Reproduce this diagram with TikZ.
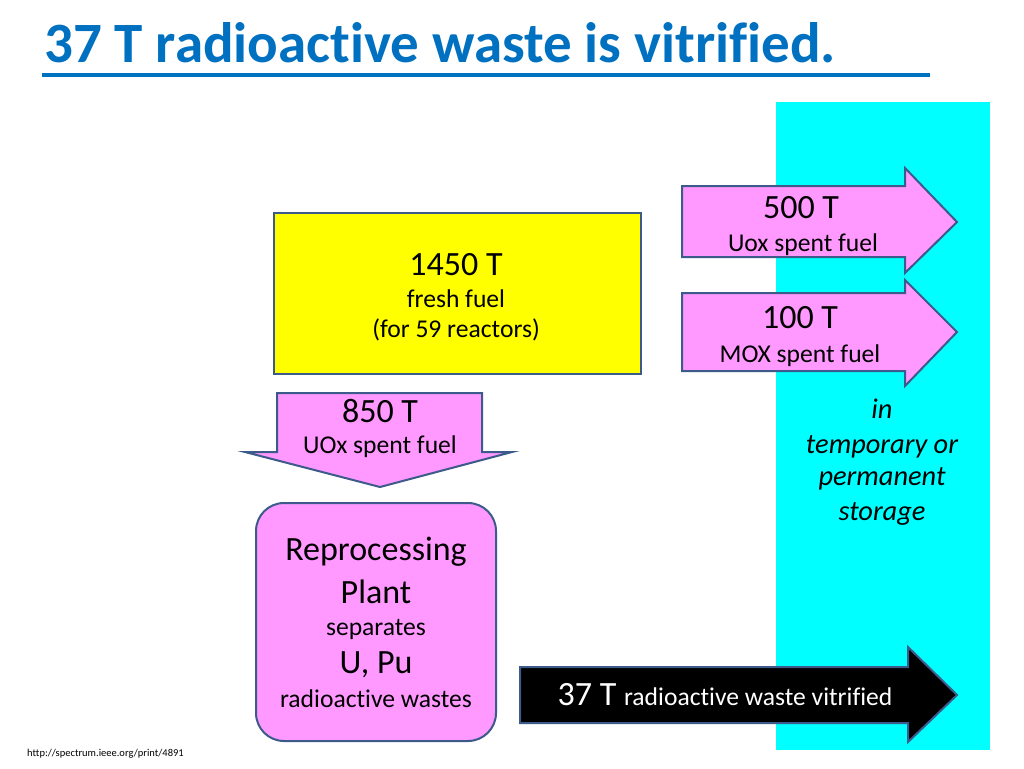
\documentclass[tikz,border=0pt]{standalone}
\usepackage{fontspec}
\setmainfont{Carlito}[Ligatures=NoCommon]
\definecolor{titleblue}{HTML}{0070C0}
\definecolor{pinkfill}{HTML}{FF99FF}
\definecolor{edgeblue}{HTML}{3C5A8A}
\definecolor{cyanfill}{HTML}{00FFFF}
\definecolor{yellowfill}{HTML}{FFFF00}
\begin{document}
\begin{tikzpicture}[x=1pt,y=-1pt,
  shapeline/.style={draw=edgeblue,line width=2pt,line join=miter},
  bigtxt/.style={font=\fontsize{34}{40}\selectfont,inner sep=0pt,anchor=base},
  smalltxt/.style={font=\fontsize{25.6}{30}\selectfont,inner sep=0pt,anchor=base},
  itxt/.style={font=\fontsize{28.4}{32}\selectfont\itshape,inner sep=0pt,anchor=base},
]
\useasboundingbox (0,0) rectangle (1024,768);
\fill[white] (0,0) rectangle (1024,768);

% title
\node[font=\fontsize{57}{64}\selectfont\bfseries,text=titleblue,inner sep=0pt,anchor=base west] (title) at (44,63) {37 T radioactive waste is vitrified.};
\draw[titleblue,line width=3.5pt] (42,75) -- (930,75);

% storage column
\fill[cyanfill] (776,102) rectangle (990,750);
\node[itxt] (st1) at (882,418) {in};
\node[itxt] (st2) at (882,453) {temporary or};
\node[itxt] (st3) at (882,485) {permanent};
\node[itxt] (st4) at (882,520) {storage};

% fresh fuel box
\draw[shapeline,fill=yellowfill] (274,213) rectangle (641,374);
\node[bigtxt] (ff1) at (456,275) {1450 T};
\node[smalltxt] (ff2) at (456,307) {fresh fuel};
\node[smalltxt] (ff3) at (456,337) {(for 59 reactors)};

% 500 T arrow
\draw[shapeline,fill=pinkfill] (682,186) -- (905,186) -- (905,168) -- (957,222) -- (905,273) -- (905,257) -- (682,257) -- cycle;
\node[bigtxt] (a1) at (801,218) {500 T};
\node[smalltxt] (a2) at (803,251) {Uox spent fuel};

% 100 T arrow
\draw[shapeline,fill=pinkfill] (682,293) -- (905,293) -- (905,280) -- (957,332) -- (905,386) -- (905,371) -- (682,371) -- cycle;
\node[bigtxt] (b1) at (800,328) {100 T};
\node[smalltxt] (b2) at (800,362) {MOX spent fuel};

% 850 T down arrow
\draw[shapeline,fill=pinkfill] (277,393) -- (482,393) -- (482,452) -- (512,452) -- (380,487) -- (245,452) -- (277,452) -- cycle;
\node[bigtxt] (c1) at (380,422) {850 T};
\node[smalltxt] (c2) at (380,453) {UOx spent fuel};

% reprocessing plant
\draw[shapeline,fill=pinkfill,rounded corners=28pt] (256,503) rectangle (496,741);
\node[bigtxt] (r1) at (376,560) {Reprocessing};
\node[bigtxt] (r2) at (376,603) {Plant};
\node[smalltxt] (r3) at (376,635) {separates};
\node[bigtxt] (r4) at (376,673) {U, Pu};
\node[smalltxt] (r5) at (376,707) {radioactive wastes};

% vitrified arrow
\draw[shapeline,fill=black] (520,667) -- (908,667) -- (908,647) -- (957,695) -- (908,742) -- (908,723) -- (520,723) -- cycle;
\node[inner sep=0pt,anchor=base,text=white] (v1) at (725,705) {\fontsize{34}{40}\selectfont 37 T \fontsize{25.6}{30}\selectfont radioactive waste vitrified};

% source
\node[font=\fontsize{10.5}{12}\selectfont,inner sep=0pt,anchor=base west] (src) at (27,756) {http://spectrum.ieee.org/print/4891};
\end{tikzpicture}
\end{document}
